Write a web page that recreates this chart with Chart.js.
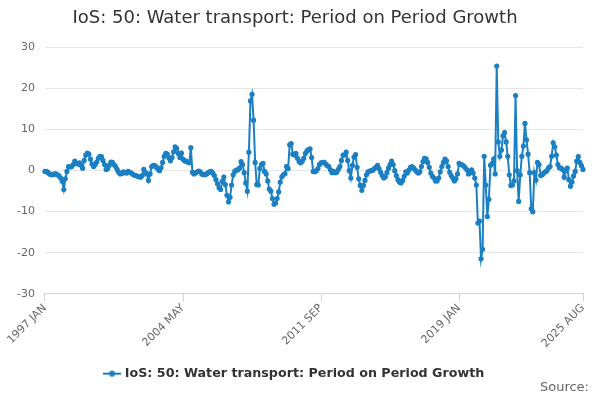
<!DOCTYPE html>
<html lang="en">
<head>
    <meta charset="UTF-8">
    <title>IoS: 50: Water transport: Period on Period Growth</title>
    <script src="https://cdn.jsdelivr.net/npm/chart.js"></script>
    <style>
        body { margin: 0; background: #fff; }
        #wrap { width: 600px; height: 400px; }
    </style>
</head>
<body>
    <div id="wrap"><canvas id="iosChart" width="600" height="400"></canvas></div>

    <script>
        const seriesName = 'IoS: 50: Water transport: Period on Period Growth';
        const monthNames = ['JAN', 'FEB', 'MAR', 'APR', 'MAY', 'JUN', 'JUL', 'AUG', 'SEP', 'OCT', 'NOV', 'DEC'];
        const firstYear = 1997;
        const monthCount = 344; // 1997 JAN .. 2025 AUG
        const shownTicks = ['1997 JAN', '2004 MAY', '2011 SEP', '2019 JAN', '2025 AUG'];
        const yTicks = [-30, -20, -10, 0, 10, 20, 30];

        // % growth
        const growth = [
            -0.2, -0.2, -0.5, -0.8, -1.0, -1.0, -0.8, -0.8, -1.0, -1.3, -1.8, -2.6,
            -4.6, -2.0, -0.2, 1.0, 0.9, 1.0, 1.5, 2.3, 1.8, 1.6, 1.9, 1.3,
            0.6, 2.5, 3.8, 4.3, 4.0, 2.8, 1.6, 1.0, 1.5, 2.1, 3.0, 3.5,
            3.4, 2.5, 1.5, 0.3, 0.5, 1.3, 2.1, 2.0, 1.5, 1.0, 0.3, -0.4,
            -0.8, -0.7, -0.3, -0.5, -0.6, -0.2, -0.4, -0.6, -0.9, -1.1, -1.2, -1.4,
            -1.5, -1.6, -1.2, 0.3, -0.4, -0.8, -2.4, -0.8, 1.0, 1.3, 1.2, 0.9,
            0.4, 0.0, 0.7, 2.0, 3.5, 4.2, 4.0, 3.1, 2.4, 3.2, 4.6, 5.8,
            5.4, 4.2, 3.2, 4.3, 2.8, 2.4, 2.3, 2.1, 1.9, 5.6, -0.4, -0.8,
            -0.6, -0.3, -0.1, -0.3, -0.8, -1.0, -1.0, -0.8, -0.5, -0.3, -0.2, -0.6,
            -1.2, -2.2, -3.2, -4.2, -4.6, -2.6, -1.6, -3.4, -6.0, -7.6, -6.5, -3.5,
            -1.0, -0.2, 0.1, 0.2, 0.6, 2.2, 1.5, -0.5, -3.0, -5.0, 4.5, 17.0,
            18.6, 12.3, 2.0, -3.4, -3.5, 0.5, 1.5, 1.8, -0.2, -0.8, -2.5, -4.5,
            -5.0, -6.8, -8.2, -7.9, -6.8, -5.2, -2.8, -1.5, -1.0, -0.7, 1.0, 0.5,
            6.3, 6.6, 4.0, 3.8, 4.2, 3.0, 2.2, 1.9, 2.3, 3.0, 4.2, 4.8,
            5.1, 5.3, 3.2, -0.2, -0.3, 0.0, 0.5, 1.5, 1.9, 2.0, 2.0, 1.6,
            1.2, 1.0, 0.2, -0.5, -0.2, -0.5, -0.4, 0.3, 1.0, 2.5, 3.8, 3.8,
            4.5, 2.5, 0.0, -1.8, 1.3, 3.3, 3.9, 0.8, -2.0, -3.6, -4.8, -3.6,
            -2.4, -1.0, -0.3, -0.1, 0.0, 0.1, 0.5, 0.8, 1.3, 0.5, -0.4, -1.2,
            -1.8, -1.5, -0.5, 0.6, 1.5, 2.3, 1.5, 0.0, -1.2, -2.2, -2.8, -3.0,
            -2.4, -1.4, -0.3, -0.6, 0.1, 0.8, 1.0, 0.6, 0.2, -0.3, -0.6, -0.3,
            1.0, 2.2, 3.0, 2.9, 2.0, 0.8, -0.6, -1.4, -1.8, -2.5, -2.5, -1.8,
            -0.3, 1.0, 2.0, 2.8, 2.4, 1.0, -0.4, -1.2, -1.8, -2.5, -2.0, -0.8,
            1.8, 1.5, 1.4, 1.1, 0.7, 0.2, -0.8, -0.5, 0.2, -0.6, -1.8, -3.5,
            -12.8, -12.3, -21.5, -19.2, 3.5, -3.5, -11.2, -7.0, 1.3, 1.7, 2.8, -0.8,
            25.5, 7.0, 3.5, 5.0, 8.5, 9.3, 7.0, 3.5, -1.0, -3.6, -3.5, -2.5,
            18.3, 0.0, -7.5, -1.0, 3.5, 6.0, 11.5, 7.5, 4.0, -0.5, -9.3, -10.0,
            -0.5, -2.3, 2.0, 1.5, -1.2, -1.0, -0.6, -0.3, 0.0, 0.7, 1.0, 3.5,
            6.8, 5.8, 3.8, 1.5, 0.7, 0.6, 0.3, -1.6, 0.0, 0.6, -2.2, -3.8,
            -2.8, -1.3, -0.2, 2.3, 3.4, 2.0, 1.2, 0.3
        ];

        const months = [];
        for (let i = 0; i < monthCount; i++) {
            months.push((firstYear + Math.floor(i / 12)) + ' ' + monthNames[i % 12]);
        }

        // legend marker: short line with a dot, like the original
        const legendMark = document.createElement('canvas');
        legendMark.width = 18;
        legendMark.height = 8;
        const lm = legendMark.getContext('2d');
        lm.strokeStyle = '#1b7fc3';
        lm.lineWidth = 2;
        lm.beginPath(); lm.moveTo(0, 4); lm.lineTo(18, 4); lm.stroke();
        lm.fillStyle = '#1b7fc3';
        lm.beginPath(); lm.arc(9, 4, 3, 0, Math.PI * 2); lm.fill();

        // "Source:" credit in the bottom right corner
        const sourceNote = {
            id: 'sourceNote',
            afterDraw(chart) {
                const c = chart.ctx;
                c.save();
                c.font = '13px "DejaVu Sans"';
                c.fillStyle = '#666666';
                c.textAlign = 'right';
                c.textBaseline = 'middle';
                c.fillText('Source:', 589, 388);
                c.restore();
            }
        };

        const ctx = document.getElementById('iosChart').getContext('2d');
        new Chart(ctx, {
            type: 'line',
            data: {
                labels: months,
                datasets: [{
                    label: seriesName,
                    data: growth,
                    borderColor: '#1b7fc3',
                    backgroundColor: '#1b7fc3',
                    borderWidth: 2,
                    pointRadius: 1.6,
                    pointHoverRadius: 3,
                    tension: 0,
                    fill: false
                }]
            },
            options: {
                responsive: false,
                animation: false,
                layout: { padding: { left: 7, right: 17, top: 4, bottom: 10 } },
                font: { family: 'DejaVu Sans' },
                plugins: {
                    title: {
                        display: true,
                        text: seriesName,
                        color: '#333333',
                        font: { family: 'DejaVu Sans', size: 18, weight: 'normal' },
                        padding: { top: 4, bottom: 18 }
                    },
                    legend: {
                        position: 'bottom',
                        labels: {
                            usePointStyle: true,
                            pointStyle: legendMark,
                            color: '#333333',
                            font: { family: 'DejaVu Sans', size: 12.7, weight: 'bold' },
                            padding: 17
                        }
                    },
                    tooltip: { enabled: false }
                },
                scales: {
                    x: {
                        grid: {
                            drawOnChartArea: false,
                            drawTicks: true,
                            tickLength: 8,
                            color: '#ccd6eb'
                        },
                        border: { display: true, color: '#ccd6eb' },
                        ticks: {
                            autoSkip: false,
                            maxRotation: 45,
                            minRotation: 45,
                            color: '#666666',
                            font: { family: 'DejaVu Sans', size: 11 },
                            padding: 0,
                            callback: function (value, index) {
                                const lab = months[index];
                                return shownTicks.includes(lab) ? lab : null;
                            }
                        }
                    },
                    y: {
                        min: yTicks[0],
                        max: yTicks[yTicks.length - 1],
                        afterBuildTicks: axis => { axis.ticks = yTicks.map(v => ({ value: v })); },
                        grid: { color: '#e6e6e6', drawTicks: false },
                        border: { display: false },
                        ticks: {
                            color: '#666666',
                            font: { family: 'DejaVu Sans', size: 11 },
                            padding: 10
                        }
                    }
                }
            },
            plugins: [sourceNote]
        });
    </script>
</body>
</html>
